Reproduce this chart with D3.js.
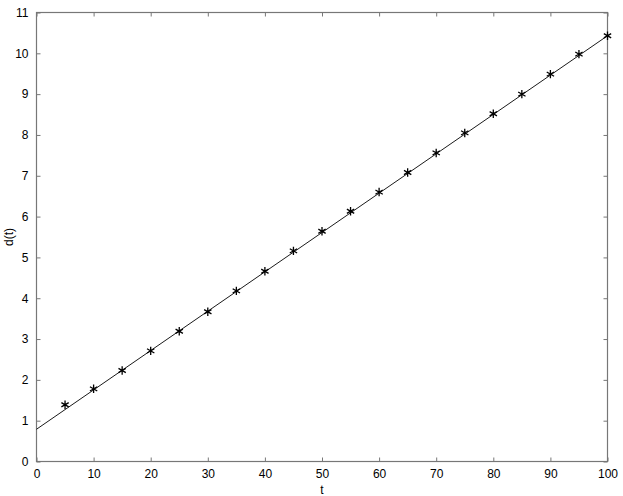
<!DOCTYPE html>
<html>
<head>
<meta charset="utf-8">
<script src="https://cdnjs.cloudflare.com/ajax/libs/d3/7.8.5/d3.min.js"></script>
<style>
  body { margin: 0; background: #fff; }
  svg { display: block; }
  text { font-family: "Liberation Sans", Arial, sans-serif; font-size: 12px; fill: #000; }
</style>
</head>
<body>
<div id="vis"></div>
<script>
// measured points
var tVals = [5, 10, 15, 20, 25, 30, 35, 40, 45, 50, 55, 60, 65, 70, 75, 80, 85, 90, 95, 100];
var dVals = [1.39, 1.78, 2.23, 2.71, 3.19, 3.67, 4.18, 4.66, 5.16, 5.64, 6.13, 6.60, 7.08, 7.56, 8.05, 8.52, 9.00, 9.49, 9.98, 10.43];

// fitted line endpoints
var lineT = [0, 100];
var lineD = [0.79, 10.43];

var xTicks = [0, 10, 20, 30, 40, 50, 60, 70, 80, 90, 100];
var yTicks = [0, 1, 2, 3, 4, 5, 6, 7, 8, 9, 10, 11];

var w = 623, h = 496,
    plotL = 36.5, plotR = 607.5, plotT = 12.5, plotB = 461.5;

var x = d3.scaleLinear().domain([0, 100]).range([plotL, plotR]),
    y = d3.scaleLinear().domain([0, 11]).range([plotB, plotT]);

var svg = d3.select("#vis").append("svg")
    .attr("width", w)
    .attr("height", h);

var axisColor = "#777";

// frame
svg.append("rect")
    .attr("x", plotL).attr("y", plotT)
    .attr("width", plotR - plotL).attr("height", plotB - plotT)
    .attr("fill", "none")
    .attr("stroke", axisColor)
    .attr("stroke-width", 1.2);

function styleAxis(g) {
  g.select(".domain").remove();
  g.selectAll(".tick line").attr("stroke", axisColor);
  g.selectAll(".tick text").style("font-size", "12px").attr("fill", "#000");
}

// bottom and left axes with inward ticks
svg.append("g")
    .attr("transform", "translate(0," + plotB + ")")
    .call(d3.axisBottom(x).tickValues(xTicks).tickSize(-4).tickPadding(8))
    .call(styleAxis);

svg.append("g")
    .attr("transform", "translate(" + plotL + ",0)")
    .call(d3.axisLeft(y).tickValues(yTicks).tickSize(-4).tickPadding(8))
    .call(styleAxis);

// top and right mirror ticks
svg.append("g")
    .attr("transform", "translate(0," + plotT + ")")
    .call(d3.axisTop(x).tickValues(xTicks).tickSize(-4).tickFormat(""))
    .call(styleAxis);

svg.append("g")
    .attr("transform", "translate(" + plotR + ",0)")
    .call(d3.axisRight(y).tickValues(yTicks).tickSize(-4).tickFormat(""))
    .call(styleAxis);

// fitted line
var line = d3.line()
    .x(function(d) { return x(d[0]); })
    .y(function(d) { return y(d[1]); });

svg.append("path")
    .datum(d3.zip(lineT, lineD))
    .attr("d", line)
    .attr("fill", "none")
    .attr("stroke", "#000")
    .attr("stroke-width", 0.9);

// asterisk markers
var star = d3.symbol().type(d3.symbolAsterisk).size(50);
svg.selectAll(".pt")
    .data(d3.zip(tVals, dVals))
  .enter().append("path")
    .attr("class", "pt")
    .attr("transform", function(d) { return "translate(" + x(d[0]) + "," + y(d[1]) + ")"; })
    .attr("d", star)
    .attr("fill", "none")
    .attr("stroke", "#000")
    .attr("stroke-width", 1.3);

// axis labels
svg.append("text")
    .attr("x", x(50))
    .attr("y", 494)
    .attr("text-anchor", "middle")
    .text("t");

svg.append("text")
    .attr("transform", "translate(13," + y(5.5) + ") rotate(-90)")
    .attr("text-anchor", "middle")
    .text("d(t)");
</script>
</body>
</html>
